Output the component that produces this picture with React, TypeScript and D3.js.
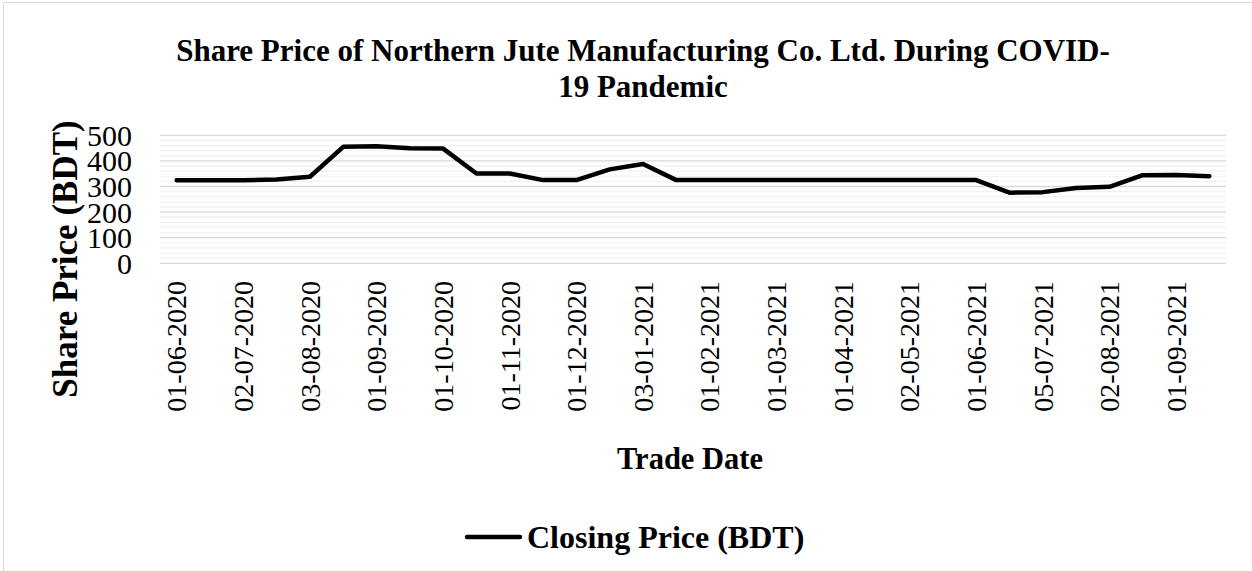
import React from "react";
import * as d3 from "d3";

const categories: string[] = [
  "01-06-2020", "15-06-2020", "02-07-2020", "16-07-2020", "03-08-2020", "17-08-2020",
  "01-09-2020", "15-09-2020", "01-10-2020", "15-10-2020", "01-11-2020", "15-11-2020",
  "01-12-2020", "15-12-2020", "03-01-2021", "17-01-2021", "01-02-2021", "15-02-2021",
  "01-03-2021", "15-03-2021", "01-04-2021", "15-04-2021", "02-05-2021", "16-05-2021",
  "01-06-2021", "15-06-2021", "05-07-2021", "19-07-2021", "02-08-2021", "16-08-2021",
  "01-09-2021", "15-09-2021",
];

const closingPrice: number[] = [
  324, 324, 324, 327, 338, 455, 457, 449, 448, 351, 351, 325,
  325, 367, 388, 325, 325, 325, 325, 325, 325, 325, 325, 325,
  325, 276, 278, 294, 299, 344, 345, 340,
];

const majorTicks: number[] = [0, 100, 200, 300, 400, 500];
const minorTicks: number[] = d3.range(0, 501, 20).filter((v) => v % 100 !== 0);

const titleLines: string[] = [
  "Share Price of Northern Jute Manufacturing Co. Ltd. During COVID-",
  "19 Pandemic",
];
const yTitle = "Share Price (BDT)";
const xTitle = "Trade Date";
const seriesName = "Closing Price (BDT)";

const FONT = "'Liberation Serif', 'Times New Roman', serif";

export default function App() {
  const W = 1252;
  const H = 571;
  const left = 160;
  const right = 1226;
  const top = 135.3;
  const bottom = 263.3;

  const x = d3.scaleBand<string>().domain(categories).range([left, right]).padding(0);
  const y = d3.scaleLinear().domain([0, 500]).range([bottom, top]);
  const cx = (c: string) => (x(c) as number) + x.bandwidth() / 2;

  const line = d3
    .line<number>()
    .x((_, i) => cx(categories[i]))
    .y((d) => y(d));

  return (
    <svg
      width={W}
      height={H}
      style={{ position: "absolute", left: 0, top: 0, background: "#fff" }}
      fontFamily={FONT}
    >
      <rect x={3.5} y={2.5} width={1300} height={700} fill="#fff" stroke="#d9d9d9" strokeWidth={1} />
      {titleLines.map((t, i) => (
        <text key={i} x={643} y={61 + i * 36} textAnchor="middle" fontSize={31} fontWeight="bold">
          {t}
        </text>
      ))}
      {minorTicks.map((v) => (
        <line key={"m" + v} x1={left} x2={right} y1={y(v)} y2={y(v)} stroke="#f2f2f2" strokeWidth={1.3} />
      ))}
      {majorTicks.map((v) => (
        <line key={"M" + v} x1={left} x2={right} y1={y(v)} y2={y(v)} stroke="#d9d9d9" strokeWidth={1.3} />
      ))}
      {majorTicks.map((v) => (
        <text key={"t" + v} x={132} y={y(v)} dy="0.35em" textAnchor="end" fontSize={30}>
          {v}
        </text>
      ))}
      {categories.map((c, i) =>
        i % 2 === 0 ? (
          <text
            key={c}
            transform={`translate(${cx(c)},${281}) rotate(-90)`}
            dy="0.35em"
            textAnchor="end"
            fontSize={28}
          >
            {c}
          </text>
        ) : null
      )}
      <path
        d={line(closingPrice) || ""}
        fill="none"
        stroke="#000"
        strokeWidth={4.5}
        strokeLinejoin="round"
        strokeLinecap="round"
      />
      <text transform={`translate(77,259) rotate(-90)`} textAnchor="middle" fontSize={35} fontWeight="bold">
        {yTitle}
      </text>
      <text x={690} y={469} textAnchor="middle" fontSize={30.5} fontWeight="bold">
        {xTitle}
      </text>
      <line x1={467} x2={520} y1={537} y2={537} stroke="#000" strokeWidth={4.5} strokeLinecap="round" />
      <text x={527} y={548} fontSize={32} fontWeight="bold">
        {seriesName}
      </text>
    </svg>
  );
}
